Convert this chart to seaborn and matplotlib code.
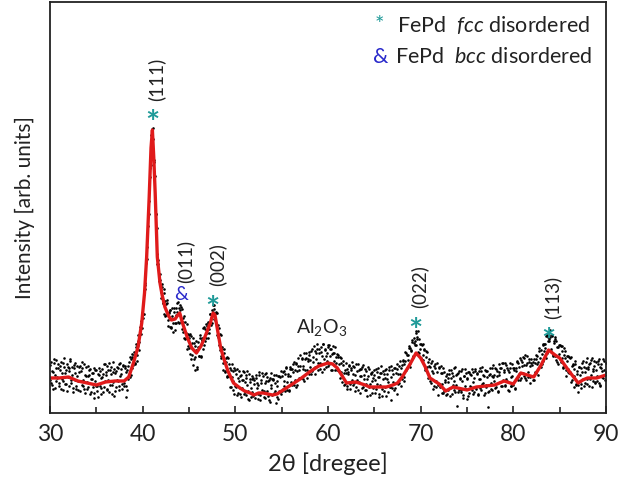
import numpy as np
import pandas as pd
import matplotlib
matplotlib.use("Agg")
import matplotlib.pyplot as plt
import seaborn as sns

# red fitted curve (2theta, intensity in arb. units)
fit_x = [30.0, 31.0, 32.0, 33.0, 34.0, 35.0, 36.0, 37.0, 38.0, 38.5, 39.0, 39.5,
         39.9, 40.2, 40.43, 40.7, 40.9, 41.05, 41.2, 41.35, 41.58, 41.87, 42.1,
         42.4, 42.8, 43.1, 43.5, 43.8, 44.0, 44.3, 44.8, 45.3, 45.8, 46.3, 46.8,
         47.3, 47.6, 47.8, 48.1, 48.4, 48.7, 49.2, 49.8, 50.5, 51.0, 51.6, 52.0,
         52.5, 53.0, 53.5, 54.0, 54.5, 55.0, 56.0, 57.0, 58.0, 59.0, 60.0, 60.5,
         61.0, 62.0, 63.0, 64.0, 64.5, 65.5, 66.3, 67.0, 67.5, 68.0, 68.8, 69.5,
         70.0, 70.5, 71.0, 72.0, 72.7, 73.5, 74.5, 75.0, 76.0, 77.0, 78.0, 79.0,
         80.0, 80.8, 81.5, 82.2, 83.0, 83.8, 84.5, 85.0, 86.0, 87.0, 87.5, 88.0,
         89.0, 90.0]
fit_y = [35, 35, 36, 32, 30, 28, 31, 32, 32, 36, 50, 66,
         90, 120, 156, 215, 265, 283, 255, 220, 156, 130, 118,
         106, 97, 93, 94, 98, 100, 90, 76, 65, 60, 67, 78,
         90, 100, 98, 82, 66, 56, 42, 30, 25, 22, 20, 18,
         20, 20, 19, 18, 19, 22, 28, 34, 41, 47, 50, 49,
         45, 30, 31, 28, 26, 26, 26, 28, 30, 36, 48, 60,
         55, 46, 35, 29, 22, 26, 24, 23, 26, 27, 28, 32,
         29, 40, 38, 36, 48, 63, 58, 55, 42, 30, 33, 35,
         35, 38]

# measured points at 30.0, 30.1, ... 90.0
scan_step = 0.1
scan_a_start = 30.0
scan_a = [
    48, 30, 42, 24, 50, 38, 32, 53, 35, 45,
    27, 43, 51, 34, 23, 46, 40, 29, 49, 36,
    45, 27, 52, 33, 38, 21, 45, 40, 27, 47,
    32, 46, 22, 42, 28, 51, 33, 24, 38, 46,
    24, 37, 43, 19, 34, 40, 26, 45, 20, 32,
    43, 27, 16, 38, 42, 25, 36, 21, 49, 32,
    41, 24, 47, 33, 21, 43, 39, 28, 51, 17,
    40, 26, 46, 32, 49, 23, 37, 44, 29, 48,
    27, 45, 16, 43, 34, 51, 36, 54, 45, 59,
    48, 61, 50, 69, 58, 72, 63, 82, 92, 85,
    99, 99, 128, 130, 156, 166, 202, 212, 245, 268,
    284, 285, 251, 237, 199, 185, 149, 149, 132, 133,
    115, 126, 110, 120, 97, 109, 113, 93, 100, 86,
    103, 85, 97, 81, 105, 90, 98, 110, 91, 105,
    108, 91, 104, 81, 91, 97, 74, 80, 64, 79,
    65, 79, 54, 70, 75, 54, 43, 67, 63, 46,
    71, 57, 78, 57, 73, 85, 68, 84, 75, 87,
    75, 91, 84, 99, 95, 90, 108, 104, 94, 100,
    100, 76, 85, 63, 78, 57, 64, 43, 60, 42,
    55, 36, 55, 37, 45, 26, 49, 32, 42, 19,
    43, 26, 44, 20, 32, 37, 16, 33, 42, 19,
    31, 38, 18, 42, 22, 13, 34, 25, 37, 17,
    33, 19, 38, 30, 14, 28, 41, 18, 33, 23,
    37, 16, 30, 40, 22, 32, 13, 35, 25, 40,
    18, 33, 38, 22, 10, 32, 37, 22, 36, 19,
    37, 24, 42, 32, 22, 45, 31, 39, 23, 44,
    31, 44, 49, 28, 43, 26, 49, 42, 55, 35,
    47, 35, 54, 44, 32, 54, 60, 43, 52, 39,
    58, 46, 62, 42, 56, 67, 46, 54, 64, 43,
    60, 44, 66, 57, 49, 69, 44, 63, 57, 52,
    66, 49, 64, 43, 59, 67, 52, 60, 43, 56,
    43, 58, 49, 35, 55, 37, 48, 28, 43, 50,
    44, 27, 39, 48, 24, 43, 33, 47, 30, 38,
    26, 42, 49, 31, 44, 20, 37, 46, 26, 38,
    44, 23, 34, 46, 26, 18, 39, 32, 41, 25,
    38, 20, 44, 29, 36, 16, 40, 47, 24, 34,
    22, 43, 35, 17, 39, 31, 46, 26, 13, 43,
    39, 23, 45, 30, 19, 44, 39, 30, 52, 45,
    34, 52, 32, 52, 60, 45, 58, 67, 50, 65,
    63, 73, 57, 75, 72, 82, 74, 61, 74, 64,
    69, 53, 69, 53, 64, 43, 56, 61, 35, 47,
    32, 50, 42, 24, 47, 32, 49, 26, 41, 18,
    46, 29, 40, 20, 45, 22, 31, 37, 19, 35,
    23, 43, 17, 35, 40, 28, 45, 21, 38, 7,
    40, 23, 35, 42, 21, 32, 15, 37, 44, 24,
    35, 17, 41, 27, 38, 23, 41, 31, 21, 44,
    26, 39, 18, 42, 34, 23, 46, 30, 37, 20,
    42, 26, 36, 6, 22, 39, 30, 45, 36, 38,
    25, 44, 37, 22, 49, 41, 31, 45, 27, 50,
    41, 28, 48, 32, 43, 22, 45, 36, 27, 49,
    28, 45, 24, 45, 52, 36, 46, 33, 53, 47,
    56, 37, 48, 58, 33, 50, 41, 54, 36, 50,
    37, 51, 33, 50, 58, 40, 57, 51, 65, 47,
    63, 49, 69, 62, 69, 55, 78, 72, 78, 72,
    76, 62, 78, 57, 70, 74, 53, 66, 49, 68,
    54, 67, 55, 67, 46, 58, 62, 37, 52, 41,
    56, 41, 56, 33, 48, 26, 44, 49, 29, 39,
    28, 46, 38, 25, 50, 34, 46, 30, 45, 55,
    29, 44, 49, 34, 53, 26, 42, 47, 31, 51,
    37, 52, 30, 46, 27, 49, 42, 35, 52, 38,
    41]

# measured points at 30.05, 30.15, ... 89.95
scan_b_start = 30.05
scan_b = [
    33, 51, 28, 41, 54, 25, 45, 36, 49, 30,
    47, 24, 40, 50, 32, 55, 29, 43, 22, 46,
    42, 54, 30, 46, 25, 48, 33, 50, 24, 37,
    23, 41, 47, 32, 45, 27, 49, 20, 37, 31,
    47, 26, 38, 44, 21, 34, 40, 15, 43, 27,
    22, 39, 45, 27, 35, 19, 44, 39, 26, 49,
    38, 23, 43, 50, 28, 46, 19, 41, 31, 44,
    22, 42, 33, 45, 27, 50, 39, 24, 47, 30,
    47, 27, 41, 23, 47, 37, 56, 38, 56, 55,
    58, 49, 66, 52, 68, 78, 71, 86, 79, 100,
    95, 119, 124, 150, 154, 187, 199, 236, 248, 278,
    278, 274, 253, 215, 199, 159, 153, 135, 139, 121,
    129, 110, 124, 99, 112, 98, 110, 87, 101, 103,
    86, 105, 90, 101, 83, 105, 90, 101, 111, 90,
    103, 106, 84, 95, 75, 91, 75, 89, 67, 75,
    78, 59, 77, 58, 48, 70, 56, 72, 44, 66,
    57, 75, 56, 75, 73, 64, 86, 72, 89, 80,
    90, 80, 99, 88, 103, 101, 94, 108, 93, 101,
    78, 88, 68, 79, 55, 66, 50, 64, 41, 51,
    37, 56, 37, 49, 26, 43, 36, 23, 45, 27,
    39, 18, 35, 42, 25, 19, 38, 25, 33, 41,
    21, 35, 28, 14, 39, 31, 16, 34, 21, 35,
    29, 15, 35, 25, 19, 38, 13, 30, 40, 21,
    22, 39, 15, 32, 36, 17, 33, 11, 28, 34,
    34, 20, 30, 38, 16, 27, 14, 37, 21, 42,
    22, 41, 27, 39, 46, 23, 37, 22, 46, 37,
    44, 28, 41, 51, 33, 50, 28, 47, 43, 58,
    35, 55, 47, 34, 60, 43, 55, 35, 54, 61,
    53, 39, 64, 51, 45, 62, 39, 60, 69, 50,
    64, 50, 61, 41, 69, 54, 64, 46, 60, 68,
    47, 68, 57, 64, 43, 60, 48, 66, 50, 59,
    56, 42, 56, 41, 50, 31, 52, 40, 29, 40,
    24, 41, 47, 29, 45, 51, 28, 39, 46, 22,
    49, 33, 23, 43, 37, 44, 25, 48, 34, 23,
    29, 42, 17, 37, 44, 29, 40, 20, 35, 43,
    33, 24, 41, 45, 19, 36, 28, 40, 17, 42,
    39, 26, 44, 34, 21, 43, 26, 47, 36, 25,
    31, 45, 25, 40, 49, 29, 47, 39, 27, 48,
    53, 36, 49, 61, 43, 58, 53, 65, 46, 62,
    71, 56, 70, 68, 80, 68, 76, 82, 60, 69,
    55, 68, 58, 63, 45, 62, 46, 51, 54, 37,
    46, 30, 52, 40, 27, 45, 32, 50, 28, 45,
    26, 47, 29, 40, 20, 41, 33, 18, 39, 31,
    39, 25, 43, 19, 37, 32, 23, 46, 28, 39,
    21, 42, 34, 23, 44, 18, 37, 27, 40, 14,
    34, 41, 20, 39, 26, 44, 19, 35, 42, 24,
    40, 19, 34, 45, 25, 42, 29, 38, 18, 43,
    28, 42, 21, 38, 45, 24, 37, 23, 48, 32,
    45, 26, 42, 21, 38, 45, 27, 50, 33, 43,
    27, 50, 34, 45, 23, 41, 50, 27, 37, 45,
    43, 25, 42, 51, 33, 50, 39, 55, 35, 51,
    40, 55, 35, 48, 57, 36, 51, 30, 47, 54,
    48, 33, 54, 41, 54, 49, 38, 62, 55, 46,
    59, 68, 52, 69, 65, 77, 60, 76, 74, 83,
    64, 77, 58, 72, 76, 57, 72, 51, 66, 59,
    68, 51, 62, 45, 65, 55, 43, 57, 44, 57,
    40, 55, 31, 47, 49, 37, 52, 28, 42, 21,
    46, 32, 45, 29, 41, 52, 27, 41, 51, 34,
    46, 27, 50, 38, 55, 32, 44, 52, 30, 43,
    32, 49, 54, 28, 45, 36, 54, 43, 33, 50]

# peak labels
fcc_labels = ["(111)", "(002)", "(022)", "(113)"]
fcc_star_x = [41.0, 47.56, 69.39, 83.74]
fcc_star_y = [300, 114, 92, 82]
bcc_labels = ["(011)"]
bcc_amp_x = [44.19]
bcc_amp_y = [119]

sns.set_style("ticks")
plt.rcParams["font.family"] = ["Lato", "DejaVu Sans"]
plt.rcParams["mathtext.fontset"] = "custom"
plt.rcParams["mathtext.rm"] = "Lato"
plt.rcParams["mathtext.it"] = "Lato:italic"

teal = "#1f9a98"
blue = "#2a2acb"
ink = "#222222"

scan = pd.DataFrame({
    "x": np.concatenate([np.round(scan_a_start + scan_step * np.arange(len(scan_a)), 2),
                         np.round(scan_b_start + scan_step * np.arange(len(scan_b)), 2)]),
    "y": scan_a + scan_b})
fit = pd.DataFrame({"x": fit_x, "y": fit_y})

fig = plt.figure(figsize=(6.35, 4.86), dpi=100)
ax = fig.add_axes([50 / 635, 73 / 486, 556 / 635, 411 / 486])

sns.scatterplot(data=scan, x="x", y="y", ax=ax, color="black", s=3.5,
                linewidth=0, marker="o")
sns.lineplot(data=fit, x="x", y="y", ax=ax, color="#e01a1a", linewidth=2.4,
             estimator=None)

ax.set_xlim(30, 90)
ax.set_ylim(0, 411)
ax.set_xticks([30, 40, 50, 60, 70, 80, 90])
ax.set_xticks([35, 45, 55, 65, 75, 85], minor=True)
ax.set_yticks([])
ax.tick_params(axis="x", which="major", direction="in", length=5, width=1.2,
               labelsize=16.5, pad=8, color=ink, labelcolor=ink)
ax.tick_params(axis="x", which="minor", direction="in", length=4, width=1.2,
               color=ink)
for sp in ax.spines.values():
    sp.set_linewidth(1.3)
    sp.set_color(ink)

ax.set_xlabel("2θ [dregee]", fontsize=17, labelpad=5, color=ink)
ax.set_ylabel("Intensity [arb. units]", fontsize=15, labelpad=11, color=ink)

# markers and hkl labels
for lab, xs, ys in zip(fcc_labels, fcc_star_x, fcc_star_y):
    ax.text(xs, ys - 12, "*", color=teal, fontsize=24, ha="center", va="center",
            fontweight="bold")
    ax.text(xs + 0.45, ys + 34, lab, rotation=90, fontsize=13.5, ha="center",
            va="center", color=ink)
for lab, xs, ys in zip(bcc_labels, bcc_amp_x, bcc_amp_y):
    ax.text(xs, ys, "&", color=blue, fontsize=14, ha="center", va="center")
    ax.text(xs + 0.45, ys + 33, lab, rotation=90, fontsize=13.5, ha="center",
            va="center", color=ink)

ax.text(59.35, 86, r"Al$_\mathregular{2}$O$_\mathregular{3}$", fontsize=14,
        ha="center", va="center", color=ink)

# legend made of text
ax.text(0.592, 0.944, "*", transform=ax.transAxes, color=teal, fontsize=16,
        ha="center", va="center")
ax.text(0.624, 0.944, r"FePd  $\mathit{fcc}$ disordered", transform=ax.transAxes,
        fontsize=15.5, ha="left", va="center", color=ink)
ax.text(0.595, 0.866, "&", transform=ax.transAxes, color=blue, fontsize=15.5,
        ha="center", va="center")
ax.text(0.6205, 0.866, r"FePd  $\mathit{bcc}$ disordered", transform=ax.transAxes,
        fontsize=15.5, ha="left", va="center", color=ink)

fig.savefig("out.png", dpi=100)
